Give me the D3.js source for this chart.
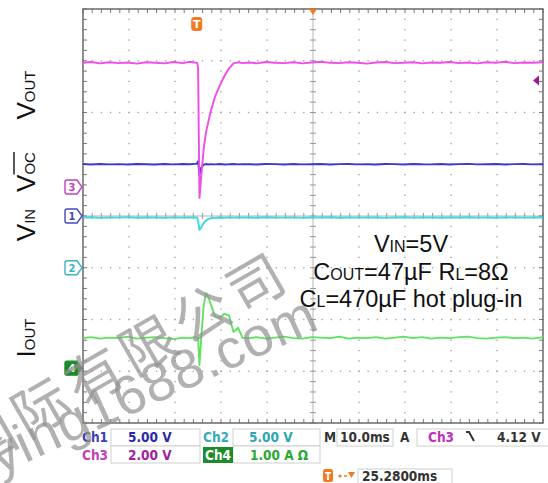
<!DOCTYPE html>
<html><head><meta charset="utf-8">
<script src="https://cdn.jsdelivr.net/npm/d3@7"></script>
<style>body{margin:0;background:#fff}svg{display:block}</style>
</head><body><svg id="c" width="548" height="483"></svg>
<script>
// ---------- data (time in ms, relative to trigger) ----------
const timeMs = [-24.7,-23,-21,-19,-17,-15,-13,-11,-9,-7,-5,-3,-1.5,-0.5,
  0,0.1,0.3,0.6,1,1.5,2,2.5,3,4,5,6,7,8,9,10,
  11.5,13,15,17,19,21,23,25,27,29,31,33,35,37,39,41,43,45,47,49,51,53,55,57,59,61,63,65,67,69,71,73,75.3];
// Ch3: VOUT (V)
const voutV = [4.80,4.83,4.78,4.82,4.79,4.81,4.77,4.82,4.80,4.78,4.83,4.79,4.84,4.81,
  4.80,4.79,4.60,-0.42,0.45,1.45,2.10,2.50,2.90,3.50,3.92,4.28,4.58,4.78,4.82,4.79,
  4.81,4.78,4.83,4.80,4.79,4.82,4.78,4.81,4.84,4.80,4.79,4.82,4.80,4.77,4.81,4.83,4.79,4.80,4.82,4.78,4.81,4.80,4.83,4.79,4.81,4.78,4.82,4.80,4.84,4.79,4.81,4.80,4.82];
// Ch1: VOC-bar (V)
const vocV = [5.02,4.98,5.03,4.99,5.01,4.97,5.02,5.00,4.98,5.03,4.99,5.02,5.00,5.04,
  5.05,5.10,5.30,4.00,4.70,4.95,5.02,4.98,5.01,4.99,5.02,4.98,5.00,5.03,4.99,5.01,
  5.00,4.97,5.02,5.01,4.98,5.03,4.99,5.00,5.02,4.97,5.01,5.03,4.99,5.00,4.98,5.02,5.01,4.97,5.03,5.00,4.99,5.02,4.98,5.01,5.04,4.99,5.00,5.02,4.98,5.01,5.03,4.99,5.00];
// Ch2: VIN (V)
const vinV = [4.85,4.88,4.82,4.86,4.84,4.89,4.83,4.86,4.85,4.82,4.87,4.84,4.86,4.85,
  4.85,4.84,4.50,3.65,3.90,4.30,4.55,4.70,4.78,4.82,4.86,4.83,4.87,4.84,4.86,4.85,
  4.86,4.83,4.88,4.85,4.84,4.87,4.82,4.86,4.85,4.88,4.83,4.86,4.84,4.87,4.85,4.82,4.86,4.88,4.84,4.85,4.87,4.83,4.86,4.85,4.88,4.84,4.86,4.83,4.87,4.85,4.84,4.86,4.85];
// Ch4: IOUT (A)
const ioutA = [0.58,0.60,0.57,0.59,0.58,0.61,0.57,0.59,0.60,0.58,0.56,0.59,0.58,0.60,
  0.59,0.58,0.58,0.06,0.60,1.20,1.45,1.38,1.25,1.00,0.97,1.05,1.02,0.70,0.78,0.58,
  0.58,0.60,0.57,0.59,0.61,0.58,0.57,0.60,0.59,0.58,0.61,0.57,0.59,0.58,0.60,0.57,0.59,0.61,0.58,0.60,0.57,0.59,0.58,0.60,0.61,0.58,0.57,0.59,0.60,0.58,0.59,0.57,0.60];

const channelNames = ["Ch1","Ch2","Ch3","Ch4"];
const unitsPerDiv = [5, 5, 2, 1];
const offsetDiv = [0, -1, 0.56, -2.94];
const traceColors = ["#3a3ad2","#3fd6e6","#f04ce8","#5ee35e"];
const markerColors = ["#4848c0","#38b4c4","#c040c0","#1d8a2a"];
const traceData = [vocV, vinV, voutV, ioutA];

const sideLabels = [["V","OUT"],["V","OC"],["V","IN"],["I","OUT"]];
const sideLabelPos = [95, 172, 225, 338];
const noteLines = [[["V",""],["IN","s"],["=5V",""]],
  [["C",""],["OUT","s"],["=47µF R",""],["L","s"],["=8Ω",""]],
  [["C",""],["L","s"],["=470µF hot plug-in",""]]];
const status1 = ["5.00 V","5.00 V","10.0ms","4.12 V"];
const status2 = ["2.00 V","1.00 A Ω"];
const horizPos = "25.2800ms";
const trigLevel = 4.12;

// ---------- scales ----------
const svg = d3.select("#c");
const L=83,R=543,T=9,B=423;
const x = d3.scaleLinear().domain([25.28-50, 25.28+50]).range([L,R]);
const xd = d3.scaleLinear().domain([0,10]).range([L,R]);
const yd = d3.scaleLinear().domain([-4,4]).range([B,T]);

// ---------- graticule ----------
const grid = svg.append("g");
const dotCol = "#a8a8a8";
d3.range(1,10).filter(i=>i!==5).forEach(i=>{
  d3.range(0,41).forEach(k=>{
    grid.append("rect").attr("x",xd(i)-0.7).attr("y",yd(-4+k*0.2)-0.7).attr("width",1.4).attr("height",1.4).attr("fill",dotCol);
  });
});
d3.range(-3,4).filter(j=>j!==0).forEach(j=>{
  d3.range(0,51).forEach(k=>{
    grid.append("rect").attr("x",xd(k*0.2)-0.7).attr("y",yd(j)-0.7).attr("width",1.4).attr("height",1.4).attr("fill",dotCol);
  });
});
grid.append("line").attr("x1",xd(5)).attr("x2",xd(5)).attr("y1",T).attr("y2",B).attr("stroke","#b5b5b5").attr("stroke-width",1);
grid.append("line").attr("x1",L).attr("x2",R).attr("y1",yd(0)).attr("y2",yd(0)).attr("stroke","#b5b5b5").attr("stroke-width",1);
d3.range(0,41).forEach(k=>{
  const yy=yd(-4+k*0.2);
  grid.append("line").attr("x1",xd(5)-3).attr("x2",xd(5)+3).attr("y1",yy).attr("y2",yy).attr("stroke","#999");
  grid.append("line").attr("x1",L).attr("x2",L+4).attr("y1",yy).attr("y2",yy).attr("stroke","#777");
  grid.append("line").attr("x1",R-4).attr("x2",R).attr("y1",yy).attr("y2",yy).attr("stroke","#777");
});
d3.range(0,51).forEach(k=>{
  const xx=xd(k*0.2);
  grid.append("line").attr("x1",xx).attr("x2",xx).attr("y1",yd(0)-3).attr("y2",yd(0)+3).attr("stroke","#999");
  grid.append("line").attr("x1",xx).attr("x2",xx).attr("y1",T).attr("y2",T+4).attr("stroke","#777");
  grid.append("line").attr("x1",xx).attr("x2",xx).attr("y1",B-4).attr("y2",B).attr("stroke","#777");
});
grid.append("rect").attr("x",L).attr("y",T).attr("width",R-L).attr("height",B-T).attr("fill","none").attr("stroke","#6a6a6a").attr("stroke-width",1.5);

// ---------- traces ----------
const drawOrder = [1,0,2,3];
drawOrder.forEach(c=>{
  const pts = timeMs.map((t,i)=>({t, v:traceData[c][i]}));
  const line = d3.line().x(d=>x(d.t)).y(d=>yd(d.v/unitsPerDiv[c]+offsetDiv[c]));
  svg.append("path").datum(pts).attr("d",line).attr("fill","none")
    .attr("stroke",traceColors[c]).attr("stroke-width",1.9).attr("stroke-linejoin","round");
});

// ---------- channel ground markers ----------
channelNames.forEach((n,c)=>{
  const yy = yd(offsetDiv[c]);
  const filled = c===3;
  svg.append("path").attr("d",`M67,${yy-7} H77 L82,${yy} L77,${yy+7} H67 Q65,${yy+7} 65,${yy+5} V${yy-5} Q65,${yy-7} 67,${yy-7} Z`)
    .attr("fill",filled?markerColors[c]:"#fff").attr("stroke",markerColors[c]).attr("stroke-width",1.4);
  svg.append("text").attr("x",72).attr("y",yy+4).attr("text-anchor","middle")
    .attr("font-family","DejaVu Sans Condensed").attr("font-weight","bold").attr("font-size",11)
    .attr("fill",filled?"#fff":markerColors[c]).text(n.slice(2));
});

// trigger markers
svg.append("rect").attr("x",x(0)-5.5).attr("y",17).attr("width",11).attr("height",14).attr("rx",3).attr("fill","#f07b22");
svg.append("text").attr("x",x(0)).attr("y",28).attr("text-anchor","middle").attr("font-family","DejaVu Sans").attr("font-weight","bold").attr("font-size",11).attr("fill","#fff").text("T");
svg.append("path").attr("d",`M${xd(5)-4},${T} L${xd(5)+4},${T} L${xd(5)},${T+6} Z`).attr("fill","#f07b22");
const trigY = yd(trigLevel/unitsPerDiv[2]+offsetDiv[2]);
svg.append("path").attr("d",`M${R-10},${trigY} L${R-4},${trigY-5} L${R-4},${trigY+5} Z`).attr("fill","#a0188f");

// ---------- side labels ----------
sideLabels.forEach((lab,i)=>{
  const g = svg.append("g").attr("transform",`translate(35,${sideLabelPos[i]}) rotate(-90)`);
  const t = g.append("text").attr("text-anchor","middle").attr("font-family","Liberation Sans, Arial").attr("fill","#111");
  t.append("tspan").attr("font-size",26).text(lab[0]);
  t.append("tspan").attr("font-size",15).text(lab[1]);
  if(i===1){
    const n=t.node();
    const x1=n.getStartPositionOfChar(1).x, x2=n.getEndPositionOfChar(2).x;
    g.append("line").attr("x1",x1).attr("x2",x2).attr("y1",-21).attr("y2",-21).attr("stroke","#111").attr("stroke-width",1.4);
  }
});

// ---------- annotation ----------
noteLines.forEach((parts,i)=>{
  const t = svg.append("text").attr("x",411).attr("y",252+i*27.5).attr("text-anchor","middle")
    .attr("font-family","Liberation Sans, Arial").attr("font-size",23.5).attr("fill","#111");
  parts.forEach(p=>{ t.append("tspan").attr("font-size",p[1]?16:23.5).text(p[0]); });
});

// ---------- status bar ----------
const sb = svg.append("g").attr("font-family","DejaVu Sans Condensed").attr("font-weight","bold").attr("font-size",13.5);
const box=(x0,y0,w,h)=>sb.append("rect").attr("x",x0).attr("y",y0).attr("width",w).attr("height",h).attr("fill","#fff").attr("stroke","#cfcfcf").attr("stroke-width",1);
box(111,429,89,17); box(233,429,87,17); box(337,429,56,17); box(417,429,140,17);
box(111,446,89,17); box(233,446,87,17); box(358,469,94,20);
const txt=(x0,y0,s,c)=>sb.append("text").attr("x",x0).attr("y",y0).attr("fill",c).text(s);
txt(82,442,channelNames[0],"#4040b8"); txt(128,442,status1[0],"#2a2aa8");
txt(203,442,channelNames[1],"#36aabb"); txt(249,442,status1[1],"#2ea6b6");
txt(324,442,"M","#333"); txt(340,442,status1[2],"#333");
txt(400,442,"A","#333"); txt(428,442,channelNames[2],"#c030c0");
sb.append("path").attr("d","M466,432 h3 l5,9").attr("fill","none").attr("stroke","#333").attr("stroke-width",2);
txt(497,442,status1[3],"#333");
txt(82,460,channelNames[2],"#c040c0"); txt(128,460,status2[0],"#a020a0");
sb.append("rect").attr("x",203).attr("y",447).attr("width",30).attr("height",16).attr("fill","#1e8c2c");
txt(205,460,channelNames[3],"#fff"); txt(250,460,status2[1],"#2aa832");
sb.append("rect").attr("x",323).attr("y",469).attr("width",10).attr("height",13).attr("rx",2.5).attr("fill","#f07b22");
sb.append("text").attr("x",328).attr("y",479.5).attr("text-anchor","middle").attr("font-size",10).attr("fill","#fff").text("T");
sb.append("circle").attr("cx",340).attr("cy",476).attr("r",1.6).attr("fill","#f07b22");
sb.append("path").attr("d","M344,476 h3").attr("stroke","#f07b22").attr("stroke-width",1.5);
sb.append("path").attr("d","M348,472 h7 l-3.5,6 Z").attr("fill","#f07b22");
txt(362,481,horizPos,"#333");

// ---------- watermark ----------
const wm = svg.append("g").attr("fill","#939393").attr("fill-opacity",0.72);
wm.append("text").attr("transform","translate(-27,470) rotate(-30)").attr("font-family","Noto Sans CJK SC").attr("font-size",56).attr("letter-spacing",6).text("国际有限公司");
wm.append("text").attr("transform","translate(-1,475) rotate(-24.5)").attr("font-family","Liberation Sans, Arial").attr("font-size",55).attr("letter-spacing",1).text("ying1688.com");
</script></body></html>
